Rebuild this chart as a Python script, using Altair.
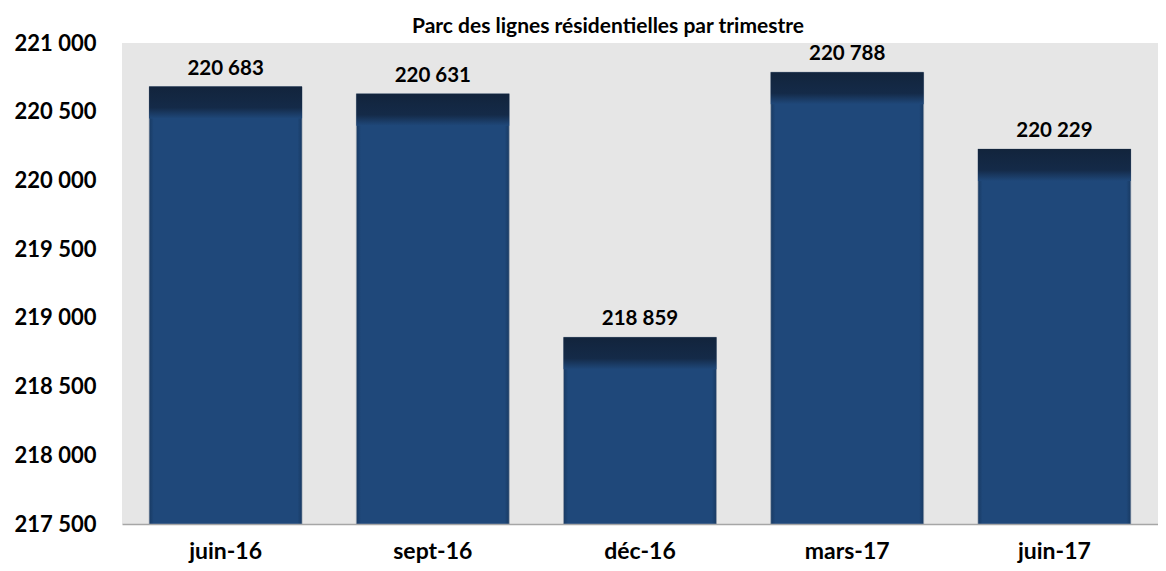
import altair as alt
import pandas as pd

categories = ["juin-16", "sept-16", "déc-16", "mars-17", "juin-17"]
values = [220683, 220631, 218859, 220788, 220229]
y_ticks = [217500, 218000, 218500, 219000, 219500, 220000, 220500, 221000]

df = pd.DataFrame({"cat": categories, "val": values})

FONT = "Lato"
fmt = "replace(format(datum.value, ','), ',', ' ')"

x = alt.X("cat:N", sort=categories, title=None,
          scale=alt.Scale(paddingInner=0.262, paddingOuter=0.131),
          axis=alt.Axis(labelAngle=0, labelFont=FONT, labelFontWeight="bold",
                        labelFontSize=23, labelColor="#000000", labelPadding=16,
                        ticks=False, domainColor="#A6A6A6", domainWidth=1.5))
y = alt.Y("val:Q", title=None,
          scale=alt.Scale(domain=[217500, 221000], zero=False, nice=False),
          axis=alt.Axis(values=y_ticks, labelExpr=fmt, labelFont=FONT,
                        labelFontWeight="bold", labelFontSize=22,
                        labelColor="#000000", labelPadding=26, ticks=False,
                        domain=False, grid=False))

base = alt.Chart(df)

main_grad = alt.Gradient(
    gradient="linear", x1=0, y1=0, x2=1, y2=0,
    stops=[alt.GradientStop(offset=0, color="#183A63"),
           alt.GradientStop(offset=0.03, color="#1F487A"),
           alt.GradientStop(offset=0.97, color="#1F487A"),
           alt.GradientStop(offset=1, color="#183A63")])

bars = base.mark_bar(color=main_grad, stroke="#9AA3AE", strokeWidth=0.6,
                     clip=True).encode(
    x=x, y=y, y2=alt.datum(217500))

top_grad = alt.Gradient(
    gradient="linear", x1=0, y1=0, x2=0, y2=1,
    stops=[alt.GradientStop(offset=0, color="#12243C"),
           alt.GradientStop(offset=0.66, color="#142A48"),
           alt.GradientStop(offset=1, color="#1F487A")])

tops = base.mark_bar(color=top_grad, y2Offset=32).encode(
    x=alt.X("cat:N", sort=categories),
    y=alt.Y("val:Q"), y2=alt.Y2("val"))

labels = base.transform_calculate(
    lab="replace(format(datum.val, ','), ',', ' ')"
).mark_text(font=FONT, fontWeight="bold", fontSize=20.5, color="#000000",
            baseline="bottom", dy=-8).encode(
    x=alt.X("cat:N", sort=categories), y=alt.Y("val:Q"), text="lab:N")

chart = alt.layer(bars, tops, labels).properties(
    width=1036, height=481,
    autosize=alt.AutoSizeParams(type="none"),
    padding={"left": 114, "top": 35, "right": 0, "bottom": 39},
    title=alt.TitleParams("Parc  des lignes résidentielles par trimestre",
                          font=FONT, fontWeight="bold", fontSize=21,
                          color="#000000", dx=-32, dy=17, offset=12),
).configure_view(fill="#E6E6E6", stroke=None)

chart.save("out.html", embed_options={"renderer": "svg", "actions": False})
